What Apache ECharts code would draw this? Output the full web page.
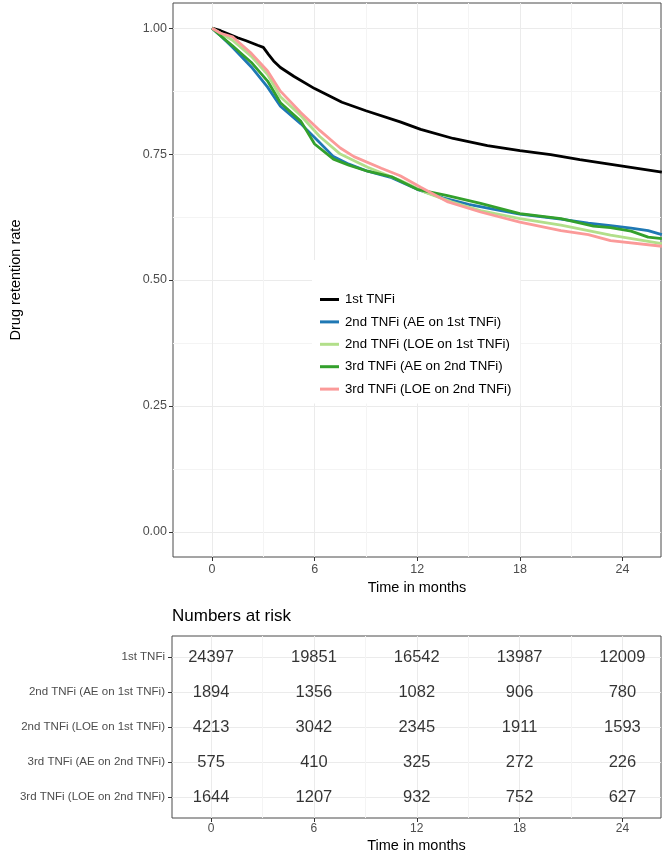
<!DOCTYPE html>
<html>
<head>
<meta charset="utf-8">
<script src="https://cdn.jsdelivr.net/npm/echarts@6/dist/echarts.min.js"></script>
<style>
html,body{margin:0;padding:0;background:#fff;}
#chart{width:664px;height:854px;}
</style>
</head>
<body>
<div id="chart"></div>
<script>
// ---------- data ----------
const seriesNames = [
  '1st TNFi',
  '2nd TNFi (AE on 1st TNFi)',
  '2nd TNFi (LOE on 1st TNFi)',
  '3rd TNFi (AE on 2nd TNFi)',
  '3rd TNFi (LOE on 2nd TNFi)'
];
const seriesColors = ['#000000', '#1f78b4', '#b2df8a', '#33a02c', '#fb9a99'];

// 1st TNFi
const tFirst = [0, 0.5, 1.0, 1.5, 2.0, 2.67, 3.0, 3.3, 3.6, 4.0, 4.8, 6.0, 7.6, 9.0, 11.0, 12.2, 14.1, 16.1, 18.0, 19.8, 21.5, 24.0, 26.3];
const sFirst = [1.0, 0.995, 0.988, 0.981, 0.975, 0.966, 0.962, 0.948, 0.935, 0.922, 0.904, 0.880, 0.853, 0.836, 0.814, 0.799, 0.781, 0.767, 0.757, 0.749, 0.739, 0.726, 0.714];
// 2nd TNFi (AE on 1st TNFi)
const tSecondAE = [0, 0.5, 1.2, 2.3, 3.25, 4.0, 5.2, 6.2, 7.1, 8.0, 9.1, 10.5, 12.0, 13.5, 15.0, 16.5, 18.0, 20.4, 22.0, 23.3, 24.5, 25.5, 26.3];
const sSecondAE = [1.0, 0.985, 0.962, 0.923, 0.883, 0.845, 0.810, 0.776, 0.745, 0.730, 0.716, 0.703, 0.680, 0.663, 0.650, 0.640, 0.631, 0.621, 0.613, 0.608, 0.603, 0.598, 0.590];
// 2nd TNFi (LOE on 1st TNFi)
const tSecondLOE = [0, 0.5, 1.2, 2.3, 3.25, 4.0, 5.2, 6.3, 7.5, 9.1, 11.0, 12.4, 14.0, 15.7, 18.0, 20.4, 23.3, 26.3];
const sSecondLOE = [1.0, 0.990, 0.976, 0.944, 0.908, 0.864, 0.826, 0.785, 0.750, 0.724, 0.698, 0.675, 0.655, 0.638, 0.622, 0.609, 0.589, 0.572];
// 3rd TNFi (AE on 2nd TNFi)
const tThirdAE = [0, 0.5, 1.2, 2.3, 3.25, 4.0, 5.2, 6.0, 7.1, 8.0, 9.1, 10.5, 12.0, 13.7, 15.7, 18.0, 20.4, 22.3, 23.3, 24.5, 25.5, 26.3];
const sThirdAE = [1.0, 0.985, 0.965, 0.932, 0.895, 0.852, 0.815, 0.770, 0.740, 0.728, 0.716, 0.705, 0.680, 0.668, 0.652, 0.632, 0.622, 0.607, 0.604, 0.597, 0.585, 0.582];
// 3rd TNFi (LOE on 2nd TNFi)
const tThirdLOE = [0, 0.5, 1.2, 2.3, 3.25, 4.0, 5.2, 6.3, 7.5, 8.3, 9.9, 11.0, 12.2, 13.8, 15.7, 18.0, 20.4, 22.0, 23.3, 26.3];
const sThirdLOE = [1.0, 0.990, 0.983, 0.950, 0.915, 0.875, 0.832, 0.797, 0.762, 0.745, 0.722, 0.707, 0.684, 0.655, 0.635, 0.615, 0.598, 0.590, 0.578, 0.567];

// numbers at risk
const riskTimes = [0, 6, 12, 18, 24];
const riskFirst = [24397, 19851, 16542, 13987, 12009];
const riskSecondAE = [1894, 1356, 1082, 906, 780];
const riskSecondLOE = [4213, 3042, 2345, 1911, 1593];
const riskThirdAE = [575, 410, 325, 272, 226];
const riskThirdLOE = [1644, 1207, 932, 752, 627];

// tick labels
const xTicks = [0, 6, 12, 18, 24];
const xMinorTicks = [3, 9, 15, 21];
const yTicks = [0, 0.25, 0.5, 0.75, 1.0];
const yMinorTicks = [0.125, 0.375, 0.625, 0.875];
const rowTicks = [0, 1, 2, 3, 4];

// ---------- build ----------
const curveTimes = [tFirst, tSecondAE, tSecondLOE, tThirdAE, tThirdLOE];
const curveVals = [sFirst, sSecondAE, sSecondLOE, sThirdAE, sThirdLOE];
const riskRows = [riskFirst, riskSecondAE, riskSecondLOE, riskThirdAE, riskThirdLOE];

const FONT = '"Liberation Sans", Arial, Helvetica, sans-serif';
const XMIN = -2.28, XMAX = 26.25;
const MAJOR = '#ebebeb', MINOR = '#f4f4f4', BORDER = '#4a4a4a', AXTXT = '#4d4d4d';

const lineSeries = seriesNames.map((n, i) => ({
  name: n,
  type: 'line',
  xAxisIndex: 0, yAxisIndex: 0,
  data: curveTimes[i].map((t, j) => [t, curveVals[i][j]]),
  showSymbol: false,
  symbol: 'none',
  lineStyle: { color: seriesColors[i], width: 2.8 },
  itemStyle: { color: seriesColors[i] },
  z: 3 + i,
  animation: false
}));

const riskData = [];
riskRows.forEach((row, r) => row.forEach((v, k) => riskData.push([riskTimes[k], r, v])));

const riskSeries = {
  type: 'scatter',
  xAxisIndex: 2, yAxisIndex: 2,
  data: riskData,
  symbolSize: 0,
  silent: true,
  label: {
    show: true, position: 'inside',
    formatter: p => String(p.value[2]),
    color: '#000', fontSize: 16.5, fontFamily: FONT
  },
  animation: false
};

const hiddenLine = { show: false, onZero: false };

const option = {
  animation: false,
  backgroundColor: '#fff',
  textStyle: { fontFamily: FONT },
  title: {
    text: 'Numbers at risk',
    left: 167, top: 603,
    textStyle: { fontSize: 17, fontWeight: 'normal', color: '#000', fontFamily: FONT }
  },
  legend: {
    data: seriesNames,
    orient: 'vertical',
    left: 312, top: 260,
    padding: [33, 9, 8, 8],
    backgroundColor: '#ffffff',
    icon: 'rect',
    itemWidth: 19, itemHeight: 3,
    itemGap: 9.4,
    textStyle: { fontSize: 13.2, color: '#000', fontFamily: FONT, lineHeight: 13, padding: [0, 0, 0, 1] },
    selectedMode: false,
    z: 10
  },
  grid: [
    { left: 172, right: 3, top: 3, bottom: 297, show: true, borderColor: BORDER, borderWidth: 1, backgroundColor: 'transparent', z: 0 },
    { left: 172, right: 3, top: 636, height: 183, show: true, borderColor: BORDER, borderWidth: 1, z: 0 }
  ],
  xAxis: [
    { type: 'value', gridIndex: 0, min: XMIN, max: XMAX, position: 'bottom',
      axisLine: hiddenLine,
      axisTick: { show: true, length: 4, lineStyle: { color: '#333' }, customValues: xTicks },
      axisLabel: { show: true, customValues: xTicks, margin: 6, fontSize: 12.5, color: AXTXT, fontFamily: FONT },
      splitLine: { show: true, lineStyle: { color: MAJOR, width: 1 } },
      name: 'Time in months', nameLocation: 'middle', nameGap: 21,
      nameTextStyle: { fontSize: 14.5, color: '#000', fontFamily: FONT }
    },
    { type: 'value', gridIndex: 0, min: XMIN, max: XMAX, position: 'top',
      axisLine: hiddenLine, axisTick: { show: false, customValues: xMinorTicks },
      axisLabel: { show: false, customValues: xMinorTicks },
      splitLine: { show: true, lineStyle: { color: MINOR, width: 1 } }
    },
    { type: 'value', gridIndex: 1, min: XMIN, max: XMAX, position: 'bottom',
      axisLine: hiddenLine,
      axisTick: { show: true, length: 4, lineStyle: { color: '#333' }, customValues: xTicks },
      axisLabel: { show: true, customValues: xTicks, margin: 5, fontSize: 12, color: AXTXT, fontFamily: FONT },
      splitLine: { show: true, lineStyle: { color: MAJOR, width: 1 } },
      name: 'Time in months', nameLocation: 'middle', nameGap: 20,
      nameTextStyle: { fontSize: 14.5, color: '#000', fontFamily: FONT }
    },
    { type: 'value', gridIndex: 1, min: XMIN, max: XMAX, position: 'top',
      axisLine: hiddenLine, axisTick: { show: false, customValues: xMinorTicks },
      axisLabel: { show: false, customValues: xMinorTicks },
      splitLine: { show: true, lineStyle: { color: MINOR, width: 1 } }
    }
  ],
  yAxis: [
    { type: 'value', gridIndex: 0, min: -0.05, max: 1.05, position: 'left',
      axisLine: hiddenLine,
      axisTick: { show: true, length: 4, lineStyle: { color: '#333' }, customValues: yTicks },
      axisLabel: { show: true, customValues: yTicks, margin: 6, fontSize: 12.5, color: AXTXT, fontFamily: FONT,
        formatter: v => Number(v).toFixed(2) },
      splitLine: { show: true, lineStyle: { color: MAJOR, width: 1 } },
      name: 'Drug retention rate', nameLocation: 'middle', nameGap: 150,
      nameTextStyle: { fontSize: 14.5, color: '#000', fontFamily: FONT }
    },
    { type: 'value', gridIndex: 0, min: -0.05, max: 1.05, position: 'right',
      axisLine: hiddenLine, axisTick: { show: false, customValues: yMinorTicks },
      axisLabel: { show: false, customValues: yMinorTicks },
      splitLine: { show: true, lineStyle: { color: MINOR, width: 1 } }
    },
    { type: 'value', gridIndex: 1, min: -0.6, max: 4.6, inverse: true, position: 'left',
      axisLine: hiddenLine,
      axisTick: { show: true, length: 4, lineStyle: { color: '#333' }, customValues: rowTicks },
      axisLabel: { show: true, customValues: rowTicks, margin: 7, fontSize: 11.5, color: AXTXT, fontFamily: FONT,
        formatter: v => (Number.isInteger(v) && seriesNames[v]) ? seriesNames[v] : '' },
      splitLine: { show: true, lineStyle: { color: MAJOR, width: 1 } }
    }
  ],
  series: lineSeries.concat([riskSeries])
};

const chart = echarts.init(document.getElementById('chart'), null, { renderer: 'canvas' });
chart.setOption(option);
</script>
</body>
</html>
